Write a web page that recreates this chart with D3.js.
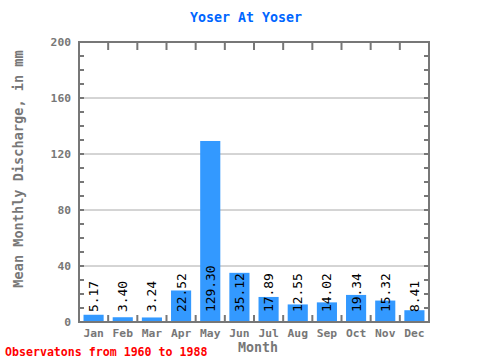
<!DOCTYPE html>
<html>
<head>
<meta charset="UTF-8">
<script src="https://d3js.org/d3.v7.min.js"></script>
<style>
  body { margin: 0; background: #fff; }
  text { font-family: "DejaVu Sans Mono", monospace; }
</style>
</head>
<body>
<svg id="chart" width="480" height="360"></svg>
<script>
  // data
  const months = ["Jan","Feb","Mar","Apr","May","Jun","Jul","Aug","Sep","Oct","Nov","Dec"];
  const discharge = [5.17, 3.40, 3.24, 22.52, 129.30, 35.12, 17.89, 12.55, 14.02, 19.34, 15.32, 8.41];
  const yTicks = [0, 40, 80, 120, 160, 200];
  const yMinor = d3.range(10, 200, 10);

  const svg = d3.select("#chart");
  const pLeft = 79, pRight = 429, pTop = 42, pBottom = 322;
  const grey = "#777";

  const x = d3.scaleBand().domain(months).range([pLeft, pRight]).paddingInner(0.31).paddingOuter(0.155);
  const xb = d3.scaleLinear().domain([0, 12]).range([pLeft, pRight]);
  const y = d3.scaleLinear().domain([0, 200]).range([pBottom, pTop]);

  // title
  svg.append("text").attr("x", 246).attr("y", 22).attr("text-anchor", "middle")
    .attr("font-size", 13.3).attr("font-weight", "bold").attr("fill", "#0066ff")
    .text("Yoser At Yoser");

  // gridlines
  svg.append("g").selectAll("line").data(yTicks.filter(d => d > 0 && d < 200)).enter().append("line")
    .attr("x1", pLeft).attr("x2", pRight).attr("y1", d => y(d)).attr("y2", d => y(d))
    .attr("stroke", "#aaa").attr("stroke-width", 1);

  // bars
  svg.append("g").selectAll("rect").data(discharge).enter().append("rect")
    .attr("x", (d, i) => x(months[i]))
    .attr("width", x.bandwidth())
    .attr("y", d => y(d))
    .attr("height", d => pBottom - y(d))
    .attr("fill", "#3399ff");

  // bar labels
  svg.append("g").selectAll("text").data(discharge).enter().append("text")
    .attr("transform", (d, i) => `translate(${x(months[i]) + x.bandwidth() / 2 + 4.5},312) rotate(-90)`)
    .attr("font-size", 12.9).attr("fill", "#000")
    .text(d => d.toFixed(2));

  // minor ticks on left & right
  const ticks = svg.append("g").attr("stroke", grey).attr("stroke-width", 2);
  ticks.selectAll(".ml").data(yMinor).enter().append("line")
    .attr("x1", pLeft).attr("x2", pLeft + 5).attr("y1", d => y(d)).attr("y2", d => y(d));
  ticks.selectAll(".mr").data(yMinor).enter().append("line")
    .attr("x1", pRight - 5).attr("x2", pRight).attr("y1", d => y(d)).attr("y2", d => y(d));
  // month boundary ticks top and bottom
  const bounds = d3.range(1, 12);
  ticks.selectAll(".tt").data(bounds).enter().append("line")
    .attr("x1", d => xb(d)).attr("x2", d => xb(d)).attr("y1", pTop).attr("y2", pTop + 8);
  ticks.selectAll(".tb").data(bounds).enter().append("line")
    .attr("x1", d => xb(d)).attr("x2", d => xb(d)).attr("y1", pBottom - 7).attr("y2", pBottom);

  // frame
  svg.append("rect").attr("x", pLeft).attr("y", pTop).attr("width", pRight - pLeft).attr("height", pBottom - pTop)
    .attr("fill", "none").attr("stroke", grey).attr("stroke-width", 2);

  // y tick labels
  svg.append("g").selectAll("text").data(yTicks).enter().append("text")
    .attr("x", 71).attr("y", d => y(d) + 4).attr("text-anchor", "end")
    .attr("font-size", 11.3).attr("font-weight", "bold").attr("fill", grey)
    .text(d => d);

  // x tick labels
  svg.append("g").selectAll("text").data(months).enter().append("text")
    .attr("x", d => x(d) + x.bandwidth() / 2).attr("y", 337).attr("text-anchor", "middle")
    .attr("font-size", 11.3).attr("font-weight", "bold").attr("fill", grey)
    .text(d => d);

  // axis titles
  svg.append("text").attr("x", 258).attr("y", 352).attr("text-anchor", "middle")
    .attr("font-size", 13.3).attr("font-weight", "bold").attr("fill", grey).text("Month");
  svg.append("text").attr("transform", "translate(23,169) rotate(-90)").attr("text-anchor", "middle")
    .attr("font-size", 13.6).attr("font-weight", "bold").attr("fill", grey)
    .text("Mean Monthly Discharge, in mm");

  // footnote
  svg.append("text").attr("x", 5).attr("y", 356)
    .attr("font-size", 11.6).attr("font-weight", "bold").attr("fill", "#ff0000")
    .text("Observatons from 1960 to 1988");
</script>
</body>
</html>
